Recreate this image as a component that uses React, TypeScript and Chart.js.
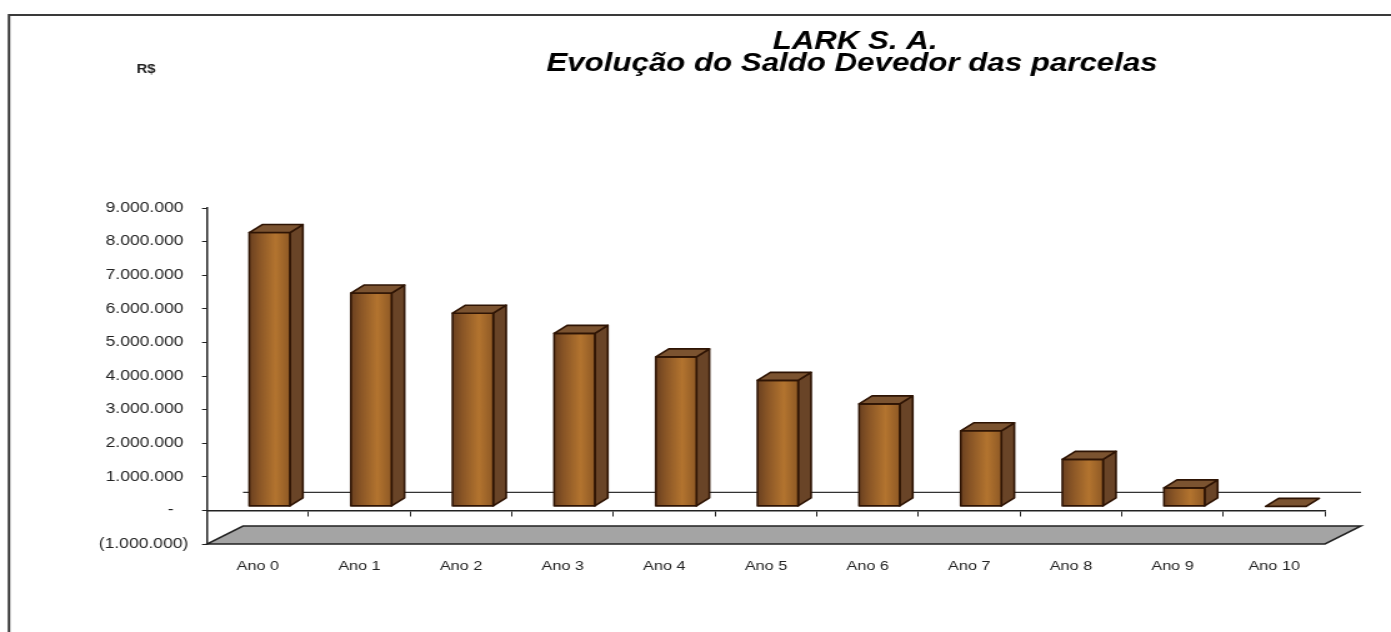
import React, { useEffect, useRef } from 'react';
import { Chart, registerables } from 'chart.js';

Chart.register(...registerables);

// ---- data ----
const categories = ['Ano 0', 'Ano 1', 'Ano 2', 'Ano 3', 'Ano 4', 'Ano 5', 'Ano 6', 'Ano 7', 'Ano 8', 'Ano 9', 'Ano 10'];
const saldoDevedor = [8150000, 6350000, 5750000, 5150000, 4450000, 3750000, 3050000, 2250000, 1400000, 550000, 0];
const yMin = -1000000;
const yMax = 9000000;
const yStep = 1000000;
const titleLines = ['LARK S. A.', 'Evolução do Saldo Devedor das parcelas'];
const unitLabel = 'R$';

// ---- geometry (canvas is drawn narrower and stretched horizontally) ----
const PHYS_W = 1391;
const H = 632;
const W = 1113;
const SX = PHYS_W / W;
const px = (v: number) => v / SX; // physical x -> logical x

const FONT = "'Liberation Sans', Arial, sans-serif";

function fmtTick(v: number): string {
  if (v === 0) return '-   ';
  const a = Math.abs(v).toString().replace(/\B(?=(\d{3})+(?!\d))/g, '.');
  return v < 0 ? `(${a})` : a + ' ';
}

const FX = px(11.75);
const FY = -4;
const DX = px(13);
const DY = -8;
const WALL_DX = px(36);
const WALL_DY = -18;

const threeDPlugin = {
  id: 'threeD',
  beforeDatasetsDraw(chart: any) {
    const ctx = chart.ctx;
    const xs = chart.scales.x;
    const ys = chart.scales.y;
    const xL = xs.left;
    const xR = xs.right;
    const y0 = ys.getPixelForValue(0);
    const yB = ys.getPixelForValue(yMin);
    ctx.save();
    // back wall base line
    ctx.strokeStyle = '#333';
    ctx.lineWidth = 1.3;
    ctx.beginPath();
    ctx.moveTo(xL + WALL_DX, y0 + WALL_DY);
    ctx.lineTo(xR + WALL_DX, y0 + WALL_DY);
    ctx.stroke();
    // floor
    ctx.beginPath();
    ctx.moveTo(xL, yB);
    ctx.lineTo(xR, yB);
    ctx.lineTo(xR + WALL_DX, yB + WALL_DY);
    ctx.lineTo(xL + WALL_DX, yB + WALL_DY);
    ctx.closePath();
    ctx.fillStyle = '#a4a4a4';
    ctx.fill();
    ctx.strokeStyle = '#222';
    ctx.lineWidth = 1.5;
    ctx.stroke();
    ctx.restore();
  },
  afterDatasetsDraw(chart: any) {
    const ctx = chart.ctx;
    const meta = chart.getDatasetMeta(0);
    ctx.save();
    ctx.lineJoin = 'round';
    meta.data.forEach((el: any) => {
      const { x, y, base, width } = el.getProps(['x', 'y', 'base', 'width'], true);
      const L = x - width / 2 + FX;
      const R = x + width / 2 + FX;
      const T = Math.min(y, base) + FY;
      const B = base + FY;
      const stroke = '#2e1404';
      ctx.lineWidth = 1.6;
      ctx.strokeStyle = stroke;
      if (B - T > 0.5) {
        // side face
        ctx.beginPath();
        ctx.moveTo(R, T);
        ctx.lineTo(R + DX, T + DY);
        ctx.lineTo(R + DX, B + DY);
        ctx.lineTo(R, B);
        ctx.closePath();
        ctx.fillStyle = '#694427';
        ctx.fill();
        ctx.stroke();
        // front face
        const g = ctx.createLinearGradient(L, 0, R, 0);
        g.addColorStop(0, '#6a4020');
        g.addColorStop(0.25, '#8a5626');
        g.addColorStop(0.65, '#b3742f');
        g.addColorStop(1, '#8e5925');
        ctx.fillStyle = g;
        ctx.fillRect(L, T, R - L, B - T);
        ctx.strokeRect(L, T, R - L, B - T);
      }
      // top face
      ctx.beginPath();
      ctx.moveTo(L, T);
      ctx.lineTo(L + DX, T + DY);
      ctx.lineTo(R + DX, T + DY);
      ctx.lineTo(R, T);
      ctx.closePath();
      ctx.fillStyle = '#7b5330';
      ctx.fill();
      ctx.stroke();
    });
    ctx.restore();
  },
  afterDraw(chart: any) {
    const ctx = chart.ctx;
    ctx.save();
    // outer frame
    ctx.strokeStyle = '#3a3a3a';
    ctx.lineWidth = 2;
    ctx.beginPath();
    ctx.moveTo(px(9), H);
    ctx.lineTo(px(9), 15);
    ctx.lineTo(W + 2, 15);
    ctx.stroke();
    // titles
    ctx.fillStyle = '#000';
    ctx.textAlign = 'center';
    ctx.textBaseline = 'alphabetic';
    ctx.font = `italic bold 25px ${FONT}`;
    ctx.fillText(titleLines[0], px(855), 49);
    ctx.fillText(titleLines[1], px(852), 71);
    // unit label
    ctx.font = `bold 12px ${FONT}`;
    ctx.textBaseline = 'middle';
    ctx.fillStyle = '#222';
    ctx.fillText(unitLabel, px(146), 70);
    ctx.restore();
  },
};

export default function App() {
  const canvasRef = useRef<HTMLCanvasElement | null>(null);

  useEffect(() => {
    if (!canvasRef.current) return;
    const chart = new Chart(canvasRef.current, {
      type: 'bar',
      data: {
        labels: categories,
        datasets: [
          {
            label: 'Saldo Devedor',
            data: saldoDevedor,
            backgroundColor: 'rgba(0,0,0,0)',
            borderWidth: 0,
            barPercentage: 0.5,
            categoryPercentage: 0.8,
          },
        ],
      },
      options: {
        responsive: false,
        animation: false,
        devicePixelRatio: 1,
        layout: { padding: { left: 0, right: W - px(1325), top: 208, bottom: H - 544 } },
        plugins: {
          legend: { display: false },
          title: { display: false },
          tooltip: { enabled: false },
        },
        scales: {
          x: {
            type: 'category',
            position: { y: 0 } as any,
            offset: true,
            grid: { display: true, drawOnChartArea: false, offset: true, tickLength: 5, color: '#222', lineWidth: 1 },
            border: { display: true, color: '#222', width: 1.5 },
            ticks: { font: { family: FONT, size: 13 }, color: '#222', padding: 43, maxRotation: 0, autoSkip: false },
            afterFit: (s: any) => {
              s.height = 0;
            },
          },
          y: {
            min: yMin,
            max: yMax,
            grid: { display: true, drawOnChartArea: false, tickLength: 4, color: '#222' },
            border: { display: true, color: '#222', width: 1.5 },
            ticks: {
              stepSize: yStep,
              font: { family: FONT, size: 14 },
              color: '#222',
              padding: 11,
              callback: (v: any) => fmtTick(Number(v)),
            },
            afterFit: (s: any) => {
              s.width = px(207);
            },
          },
        },
      } as any,
      plugins: [threeDPlugin],
    });
    return () => chart.destroy();
  }, []);

  return (
    <div style={{ position: 'absolute', left: 0, top: 0, width: PHYS_W, height: H, overflow: 'hidden', background: '#fff' }}>
      <canvas ref={canvasRef} width={W} height={H} style={{ width: `${PHYS_W}px`, height: `${H}px`, display: 'block' }} />
    </div>
  );
}
